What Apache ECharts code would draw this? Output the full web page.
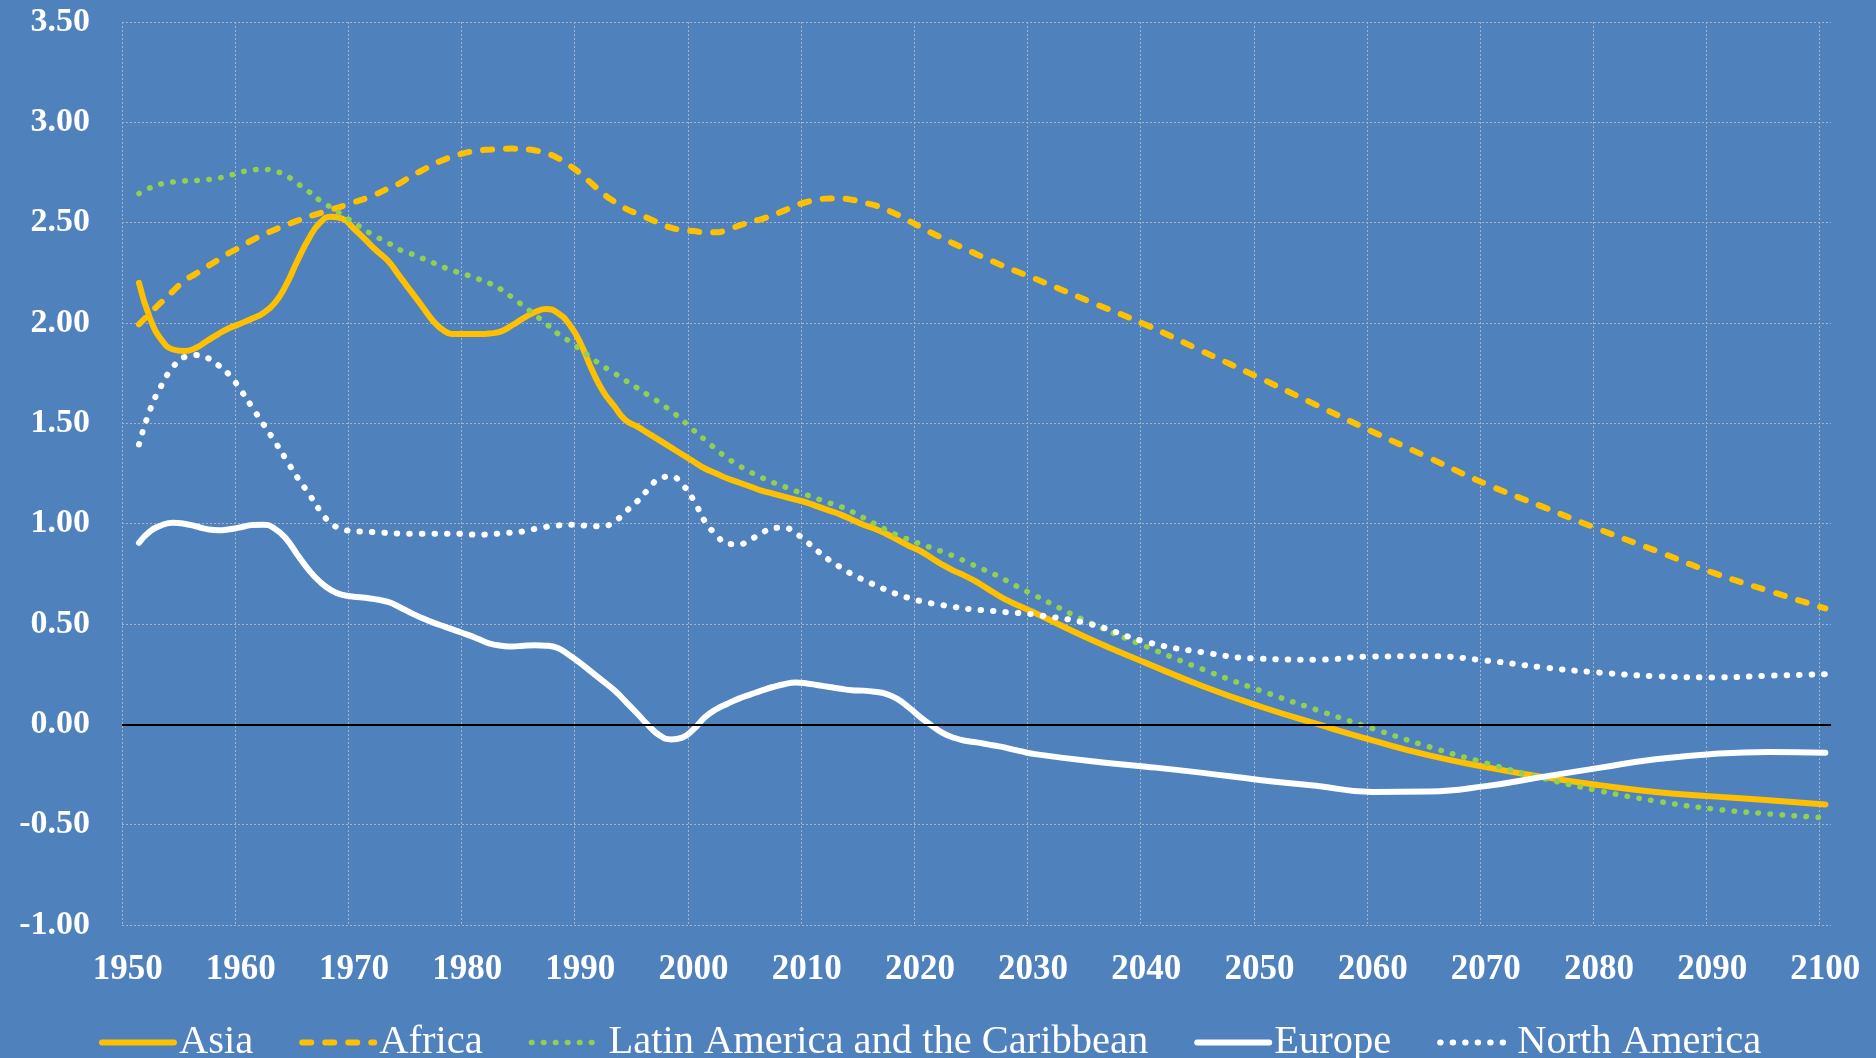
<!DOCTYPE html>
<html>
<head>
<meta charset="utf-8">
<title>Population growth rate by region</title>
<script src="https://cdn.jsdelivr.net/npm/echarts@6.0.0/dist/echarts.min.js"></script>
<style>
  html, body { margin: 0; padding: 0; background: #4F81BD; }
  #main { width: 1876px; height: 1058px; }
</style>
</head>
<body>
<div id="main"></div>
<script>
// yearly points up to 2030, then every five years
let years = [
  1951, 1952, 1953, 1954, 1955, 1956, 1957, 1958, 1959, 1960,
  1961, 1962, 1963, 1964, 1965, 1966, 1967, 1968, 1969, 1970,
  1971, 1972, 1973, 1974, 1975, 1976, 1977, 1978, 1979, 1980,
  1981, 1982, 1983, 1984, 1985, 1986, 1987, 1988, 1989, 1990,
  1991, 1992, 1993, 1994, 1995, 1996, 1997, 1998, 1999, 2000,
  2001, 2002, 2003, 2004, 2005, 2006, 2007, 2008, 2009, 2010,
  2011, 2012, 2013, 2014, 2015, 2016, 2017, 2018, 2019, 2020,
  2021, 2022, 2023, 2024, 2025, 2026, 2027, 2028, 2029, 2030,
  2035, 2040, 2045, 2050, 2055, 2060, 2065, 2070, 2075, 2080, 2085, 2090, 2095, 2100
]

let asia = [
  2.20, 2.02, 1.915, 1.868, 1.86, 1.875, 1.91, 1.945, 1.975, 1.998,
  2.022, 2.05, 2.10, 2.19, 2.31, 2.42, 2.50, 2.53, 2.52, 2.47,
  2.415, 2.36, 2.31, 2.235, 2.16, 2.085, 2.01, 1.96, 1.945, 1.945,
  1.945, 1.948, 1.958, 1.99, 2.025, 2.055, 2.07, 2.05, 1.995, 1.90,
  1.77, 1.66, 1.585, 1.515, 1.485, 1.45, 1.415, 1.38, 1.345, 1.31,
  1.275, 1.25, 1.225, 1.205, 1.185, 1.165, 1.15, 1.135, 1.12, 1.105,
  1.085, 1.065, 1.045, 1.02, 0.995, 0.975, 0.95, 0.92, 0.89, 0.865,
  0.83, 0.795, 0.765, 0.74, 0.71, 0.675, 0.64, 0.61, 0.585, 0.56,
  0.425, 0.305, 0.19, 0.09, 0.003, -0.08, -0.155, -0.213, -0.262, -0.303, -0.337, -0.359, -0.378, -0.40
]

let africa = [
  1.993, 2.05, 2.105, 2.158, 2.21, 2.245, 2.28, 2.315, 2.35, 2.38,
  2.413, 2.44, 2.465, 2.488, 2.51, 2.53, 2.548, 2.565, 2.583, 2.602,
  2.62, 2.643, 2.67, 2.695, 2.73, 2.76, 2.79, 2.815, 2.835, 2.85,
  2.86, 2.864, 2.868, 2.869, 2.866, 2.86, 2.846, 2.822, 2.787, 2.745,
  2.695, 2.645, 2.605, 2.57, 2.545, 2.522, 2.497, 2.475, 2.463, 2.458,
  2.452, 2.452, 2.465, 2.485, 2.503, 2.518, 2.537, 2.56, 2.585, 2.603,
  2.615, 2.62, 2.62, 2.614, 2.60, 2.587, 2.565, 2.54, 2.51, 2.48,
  2.45, 2.423, 2.395, 2.37, 2.343, 2.318, 2.293, 2.27, 2.247, 2.225,
  2.107, 1.99, 1.858, 1.727, 1.592, 1.458, 1.328, 1.198, 1.085, 0.972, 0.866, 0.757, 0.665, 0.578
]

let latinAmerica = [
  2.645, 2.674, 2.694, 2.703, 2.708, 2.71, 2.714, 2.722, 2.735, 2.752,
  2.762, 2.766, 2.757, 2.735, 2.695, 2.655, 2.61, 2.575, 2.537, 2.50,
  2.462, 2.429, 2.40, 2.366, 2.346, 2.323, 2.30, 2.276, 2.256, 2.239,
  2.219, 2.197, 2.167, 2.126, 2.083, 2.04, 1.995, 1.947, 1.91, 1.867,
  1.825, 1.785, 1.75, 1.713, 1.677, 1.64, 1.603, 1.562, 1.517, 1.466,
  1.418, 1.37, 1.326, 1.29, 1.258, 1.23, 1.206, 1.185, 1.163, 1.143,
  1.123, 1.103, 1.085, 1.06, 1.03, 1.0, 0.97, 0.943, 0.921, 0.90,
  0.88, 0.86, 0.838, 0.813, 0.787, 0.762, 0.736, 0.705, 0.675, 0.647,
  0.507, 0.387, 0.274, 0.17, 0.073, -0.021, -0.112, -0.193, -0.268, -0.331, -0.382, -0.421, -0.446, -0.466
]

let europe = [
  0.905, 0.963, 0.992, 1.005, 1.0, 0.987, 0.973, 0.967, 0.972, 0.982,
  0.993, 0.995, 0.975, 0.925, 0.845, 0.77, 0.71, 0.668, 0.645, 0.636,
  0.631, 0.622, 0.61, 0.585, 0.556, 0.53, 0.507, 0.487, 0.467, 0.447,
  0.425, 0.402, 0.392, 0.388, 0.392, 0.394, 0.392, 0.38, 0.345, 0.305,
  0.26, 0.215, 0.17, 0.113, 0.055, -0.005, -0.055, -0.075, -0.066, -0.025,
  0.035, 0.075, 0.103, 0.128, 0.148, 0.168, 0.186, 0.20, 0.208, 0.204,
  0.195, 0.186, 0.177, 0.17, 0.168, 0.162, 0.152, 0.127, 0.085, 0.037,
  -0.005, -0.043, -0.067, -0.082, -0.09, -0.10, -0.11, -0.122, -0.135, -0.147,
  -0.183, -0.211, -0.242, -0.277, -0.306, -0.337, -0.335, -0.308, -0.262, -0.217, -0.174, -0.148, -0.138, -0.141
]

let northAmerica = [
  1.395, 1.57, 1.69, 1.78, 1.83, 1.84, 1.827, 1.79, 1.74, 1.665,
  1.58, 1.495, 1.41, 1.32, 1.23, 1.15, 1.065, 1.0, 0.973, 0.962,
  0.96, 0.957, 0.954, 0.951, 0.95, 0.95, 0.95, 0.95, 0.95, 0.947,
  0.945, 0.947, 0.952, 0.956, 0.962, 0.974, 0.984, 0.991, 0.995, 0.993,
  0.987, 0.988, 1.01, 1.06, 1.11, 1.171, 1.225, 1.235, 1.195, 1.118,
  1.012, 0.945, 0.90, 0.897, 0.92, 0.952, 0.978, 0.98, 0.953, 0.91,
  0.862, 0.818, 0.782, 0.748, 0.72, 0.695, 0.67, 0.648, 0.63, 0.615,
  0.603, 0.594, 0.585, 0.577, 0.571, 0.567, 0.562, 0.557, 0.553, 0.548,
  0.50, 0.411, 0.359, 0.327, 0.322, 0.338, 0.339, 0.318, 0.284, 0.258, 0.24, 0.234, 0.242, 0.25
]

// axis categories 1950..2100, labelled every ten years
let yearLabels = []
for (let y = 1950; y <= 2100; y++) yearLabels.push(String(y))

let serif = '"Liberation Serif", "DejaVu Serif", serif'
let gridStyle = { color: '#A8B2C4', width: 1, type: [2, 2] }

function toPoints(values) {
  return years.map((y, i) => [y, values[i]])
}

function makeLine(name, values, color, width, dash) {
  return {
    name: name,
    type: 'line',
    xAxisIndex: 1,
    data: toPoints(values),
    symbol: 'none',
    showSymbol: false,
    smooth: 0.5,
    silent: true,
    lineStyle: { color: color, width: width, type: dash, cap: 'round', join: 'round' },
    itemStyle: { color: color }
  }
}

let chart = echarts.init(document.getElementById('main'))

let series = [
  makeLine('Asia', asia, '#FFC000', 6, 'solid'),
  makeLine('Africa', africa, '#FFC000', 6, [9, 14]),
  makeLine('Latin America and the Caribbean', latinAmerica, '#92D050', 5.5, [0.5, 11.5]),
  makeLine('Europe', europe, '#FFFFFF', 6, 'solid'),
  makeLine('North America', northAmerica, '#FFFFFF', 6, [0.5, 12])
]

// black zero line
series[0].markLine = {
  silent: true,
  symbol: ['none', 'none'],
  label: { show: false },
  lineStyle: { color: '#000000', width: 2, type: 'solid' },
  data: [{ yAxis: 0 }]
}

let option = {
  backgroundColor: '#4F81BD',
  animation: false,
  grid: { left: 122, right: 45, top: 22, bottom: 133 },
  legend: {
    left: 99,
    top: 1022,
    padding: 0,
    itemWidth: 72,
    itemHeight: 14,
    itemGap: 46,
    selectedMode: false,
    lineStyle: { width: 'inherit' },
    itemStyle: { opacity: 0 },
    textStyle: { color: '#FFFFFF', fontFamily: serif, fontSize: 40.5 },
    data: series.map(s => s.name)
  },
  xAxis: [
    {
      type: 'category',
      data: yearLabels,
      boundaryGap: true,
      axisLine: { show: false },
      axisTick: { show: false },
      axisLabel: {
        interval: 9,
        margin: 27,
        color: '#FFFFFF',
        fontFamily: serif,
        fontWeight: 'bold',
        fontSize: 35
      },
      splitLine: { show: true, interval: 9, showMaxLine: false, lineStyle: gridStyle }
    },
    {
      type: 'value',
      min: 1949.5,
      max: 2100.5,
      show: false,
      splitLine: { show: false }
    }
  ],
  yAxis: {
    type: 'value',
    min: -1,
    max: 3.5,
    interval: 0.5,
    axisLine: { show: false },
    axisTick: { show: false },
    axisLabel: {
      margin: 32,
      color: '#FFFFFF',
      fontFamily: serif,
      fontWeight: 'bold',
      fontSize: 34,
      formatter: v => v.toFixed(2)
    },
    splitLine: { show: true, lineStyle: gridStyle }
  },
  series: series
}

chart.setOption(option)
</script>
</body>
</html>
